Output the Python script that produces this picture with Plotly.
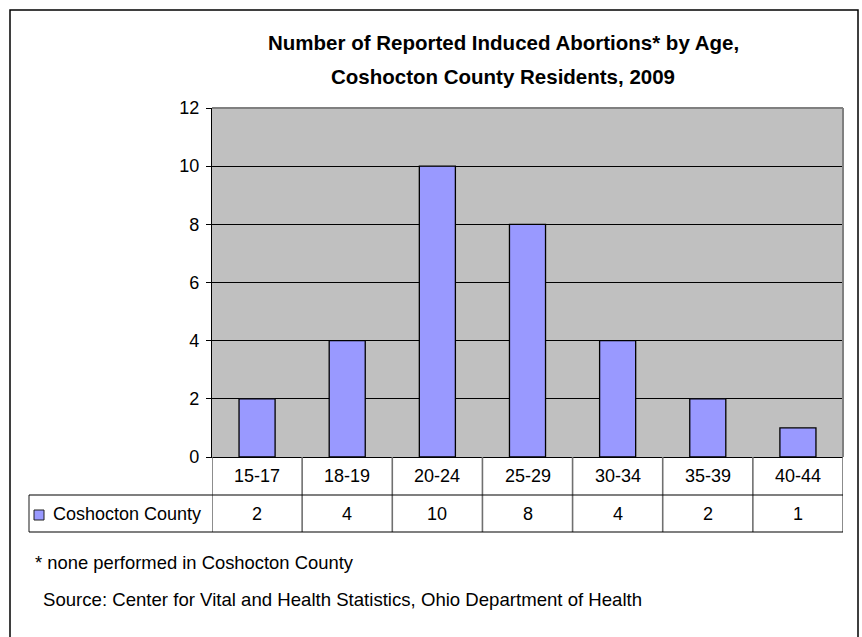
import plotly.graph_objects as go

categories = ["15-17", "18-19", "20-24", "25-29", "30-34", "35-39", "40-44"]
values = [2, 4, 10, 8, 4, 2, 1]
series_name = "Coshocton County"
y_ticks = [0, 2, 4, 6, 8, 10, 12]
title_lines = ["Number of Reported Induced Abortions* by Age,", "Coshocton County Residents, 2009"]
footnote = "* none performed in Coshocton County"
source = "Source: Center for Vital and Health Statistics, Ohio Department of Health"

W, H = 862, 637
L, R, T, B = 212, 843, 108, 457
FONT = "Liberation Sans, Arial, sans-serif"
BAR = "#9999FF"
FS = 18

def px(x):
    return (x - L) / (R - L)

def py(y):
    return (B - y) / (B - T)

fig = go.Figure()
fig.add_trace(go.Bar(x=list(range(len(categories))), y=values, width=0.4,
                     marker=dict(color=BAR, line=dict(color="black", width=1.3)),
                     name=series_name, showlegend=False, hoverinfo="y"))

n = len(categories)
shapes = []
annotations = []

# outer frame
shapes.append(dict(type="rect", xref="paper", yref="paper", x0=px(10), x1=px(858), y0=py(645), y1=py(10),
                   line=dict(color="black", width=1.5), layer="below"))
# plot area border top/right (gray)
shapes.append(dict(type="line", xref="paper", yref="paper", x0=0, x1=1, y0=1, y1=1, line=dict(color="#808080", width=2)))
shapes.append(dict(type="line", xref="paper", yref="paper", x0=1, x1=1, y0=0, y1=1, line=dict(color="#808080", width=2)))

# data table
row_mid = 495
row_bot = 532
for i in range(n + 1):
    xb = i - 0.5
    shapes.append(dict(type="line", xref="x", yref="paper", x0=xb, x1=xb, y0=py(row_bot), y1=py(B),
                       line=dict(color="#707070", width=1.6)))
shapes.append(dict(type="line", xref="paper", yref="paper", x0=px(29), x1=px(29), y0=py(row_bot), y1=py(row_mid),
                   line=dict(color="#707070", width=1.6)))
for yy in (row_mid, row_bot):
    shapes.append(dict(type="line", xref="paper", yref="paper", x0=px(29), x1=1, y0=py(yy), y1=py(yy),
                       line=dict(color="black", width=1.2)))
# legend key
shapes.append(dict(type="rect", xref="paper", yref="paper", x0=px(34), x1=px(44), y0=py(520), y1=py(510),
                   fillcolor=BAR, line=dict(color="#202020", width=1)))
annotations.append(dict(text=series_name, xref="paper", yref="paper", x=px(51), y=py(514), xanchor="left",
                        yanchor="middle", showarrow=False, font=dict(size=FS, color="black", family=FONT)))

for i, (c, v) in enumerate(zip(categories, values)):
    annotations.append(dict(text=c, xref="x", yref="paper", x=i, y=py(476), xanchor="center", yanchor="middle",
                            showarrow=False, font=dict(size=FS, color="black", family=FONT)))
    annotations.append(dict(text=str(v), xref="x", yref="paper", x=i, y=py(514), xanchor="center", yanchor="middle",
                            showarrow=False, font=dict(size=FS, color="black", family=FONT)))

# title
for t, yy in zip(title_lines, (43, 77)):
    annotations.append(dict(text="<b>" + t + "</b>", xref="paper", yref="paper", x=px(503), y=py(yy),
                            xanchor="center", yanchor="middle", showarrow=False,
                            font=dict(size=20.5, color="black", family=FONT)))

annotations.append(dict(text=footnote, xref="paper", yref="paper", x=px(33), y=py(562), xanchor="left",
                        yanchor="middle", showarrow=False, font=dict(size=18.4, color="black", family=FONT)))
annotations.append(dict(text=source, xref="paper", yref="paper", x=px(41), y=py(599), xanchor="left",
                        yanchor="middle", showarrow=False, font=dict(size=18.6, color="black", family=FONT)))

fig.update_layout(
    width=W, height=H,
    margin=dict(l=L, r=W - R, t=T, b=H - B, pad=0),
    paper_bgcolor="white", plot_bgcolor="#C0C0C0",
    bargap=0.6,
    xaxis=dict(range=[-0.5, n - 0.5], showticklabels=False, ticks="", showgrid=False, zeroline=False,
               showline=True, linecolor="black", linewidth=1.3, fixedrange=True),
    yaxis=dict(range=[0, 12], tickvals=y_ticks, ticks="outside", ticklen=5, tickcolor="black", tickwidth=1,
               showgrid=True, gridcolor="black", gridwidth=1, zeroline=False,
               showline=True, linecolor="black", linewidth=1.3, ticklabelstandoff=3,
               tickfont=dict(size=FS, color="black", family=FONT), fixedrange=True),
    shapes=shapes, annotations=annotations,
    font=dict(family=FONT, color="black"),
    showlegend=False,
)

fig.write_html("out.html", config={"displayModeBar": False},
               post_script="document.body.style.margin='0px';document.body.style.overflow='hidden';")
